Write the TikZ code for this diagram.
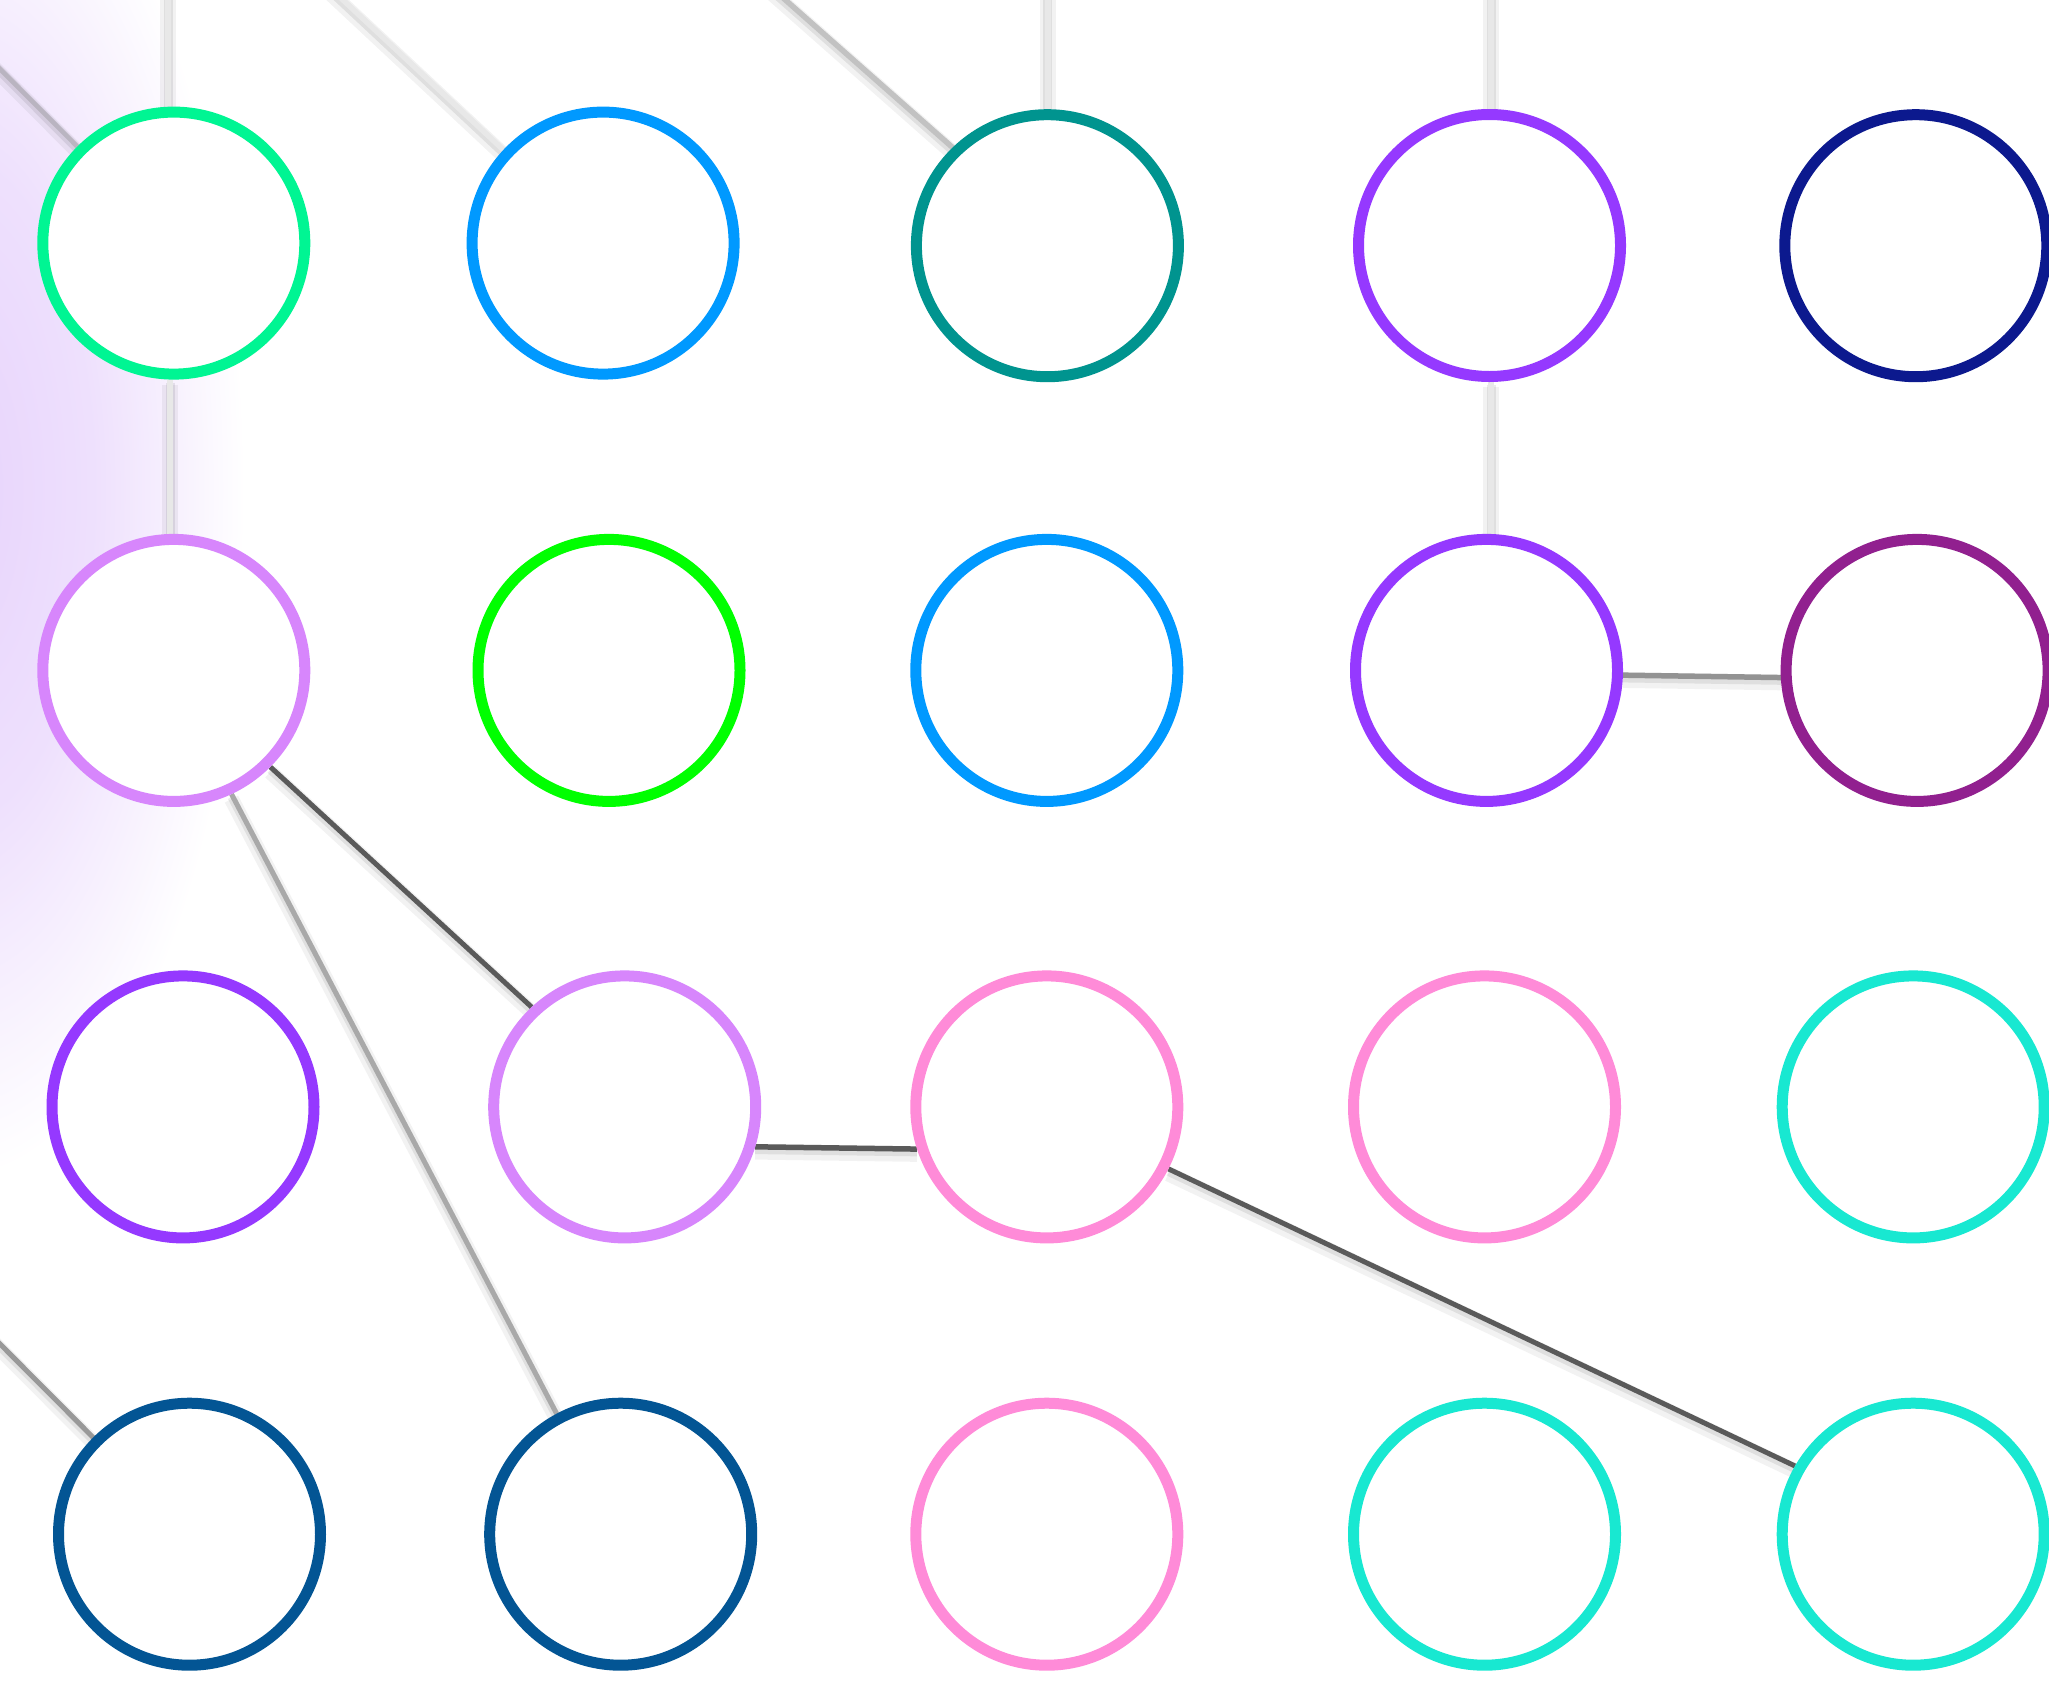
\documentclass[tikz,border=0pt]{standalone}
\usetikzlibrary{calc}
\definecolor{glowc}{HTML}{E7D3FC}
\pgfdeclareradialshading{glow}{\pgfpoint{0bp}{0bp}}{color(0bp)=(glowc); color(12bp)=(glowc!70!white); color(25bp)=(white); color(50bp)=(white)}
\pgfdeclarelayer{glowlayer}
\pgfdeclarelayer{edgelayer}
\pgfsetlayers{glowlayer,edgelayer,main}
\definecolor{cGreen}{HTML}{00F593}
\definecolor{cBlue}{HTML}{0099FF}
\definecolor{cTeal}{HTML}{00948F}
\definecolor{cViolet}{HTML}{9539FF}
\definecolor{cNavy}{HTML}{0C198E}
\definecolor{cLilac}{HTML}{D786FC}
\definecolor{cLime}{HTML}{00FF00}
\definecolor{cPlum}{HTML}{91208F}
\definecolor{cPink}{HTML}{FF8BD8}
\definecolor{cTurq}{HTML}{18E8D1}
\definecolor{cSteel}{HTML}{035594}
\definecolor{lDark}{HTML}{5A5A5A}
\definecolor{lMid}{HTML}{939393}
\definecolor{lSoft}{HTML}{A9A9A9}
\definecolor{lGrey}{HTML}{999999}
\definecolor{lLight}{HTML}{C2C2C2}
\definecolor{lPale}{HTML}{E8E8E8}
\tikzset{
  ring/.style={circle, draw=#1, line width=11pt, fill=white, minimum size=262pt, inner sep=0pt},
  lnk/.style 2 args={draw=#1, line width=#2,
    preaction={draw=black, draw opacity=0.05, line width=#2+10pt, transform canvas={yshift=-5pt}},
    preaction={draw=black, draw opacity=0.08, line width=#2+3pt, transform canvas={yshift=-3pt}}},
}
\begin{document}
\begin{tikzpicture}[x=1pt,y=-1pt]
\useasboundingbox (0,0) rectangle (2049,1686);
\begin{pgfonlayer}{glowlayer}
  \fill[white] (0,0) rectangle (2049,1686);
  \begin{scope}
    \clip (0,0) rectangle (2049,1686);
    \shade[shading=glow] (-45,490) ellipse [x radius=290, y radius=690];
  \end{scope}
\end{pgfonlayer}

% row 1
\node[ring=cGreen]  (n00) at (173.8,243.1) {};
\node[ring=cBlue]   (n01) at (603.1,243.1) {};
\node[ring=cTeal]   (n02) at (1047.4,245.7) {};
\node[ring=cViolet] (n03) at (1489.5,245.5) {};
\node[ring=cNavy]   (n04) at (1915.8,245.7) {};
% row 2
\node[ring=cLilac]  (n10) at (173.8,670.4) {};
\node[ring=cLime]   (n11) at (609.0,670.4) {};
\node[ring=cBlue]   (n12) at (1046.8,670.4) {};
\node[ring=cViolet] (n13) at (1486.5,670.4) {};
\node[ring=cPlum]   (n14) at (1917.1,670.4) {};
% row 3
\node[ring=cViolet] (n20) at (183.0,1106.9) {};
\node[ring=cLilac]  (n21) at (624.7,1106.9) {};
\node[ring=cPink]   (n22) at (1046.8,1106.9) {};
\node[ring=cPink]   (n23) at (1484.5,1106.9) {};
\node[ring=cTurq]   (n24) at (1913.2,1106.9) {};
% row 4
\node[ring=cSteel]  (n30) at (189.5,1534.2) {};
\node[ring=cSteel]  (n31) at (620.7,1534.2) {};
\node[ring=cPink]   (n32) at (1046.8,1534.2) {};
\node[ring=cTurq]   (n33) at (1484.5,1534.2) {};
\node[ring=cTurq]   (n34) at (1913.2,1534.2) {};

% free ends of connectors leaving the picture
\coordinate (offA) at (-218,-150);
\coordinate (offB) at (182.6,-150);
\coordinate (offC) at (615.5,-150);
\coordinate (offD) at (-150,1193.3);
\coordinate (offE) at (168,-30);
\coordinate (vx0)  at (170,0);
\coordinate (offF) at (1047.5,-30);
\coordinate (offG) at (1491,-30);

\begin{pgfonlayer}{edgelayer}
  \draw[lnk={gray}{5pt}, draw opacity=0.3] (offA) -- (n00);
  \draw[lnk={lPale}{6pt}] (offE) -- (offE |- n00.north);
  \draw[lnk={lPale}{6pt}] (n00.south -| vx0) -- (n10.north -| vx0);
  \draw[lnk={lPale}{5.5pt}] (offB) -- (n01);
  \draw[lnk={lLight}{5.5pt}] (offC) -- (n02.134.7);
  \draw[lnk={lPale}{6pt}] (offF) -- (offF |- n02.north);
  \draw[lnk={lPale}{6pt}] (offG) -- (offG |- n03.north);
  \draw[lnk={lPale}{6pt}] (n03.south -| offG) -- (n13.north -| offG);
  \draw[lnk={lMid}{5.5pt}] (n13.-2.3) -- (n14.-177.7);
  \draw[lnk={lDark}{5pt}] (n10.-45) -- (n21.133);
  \draw[lnk={lSoft}{5pt}] (n10.-65.6) -- (n31.118);
  \draw[lnk={lDark}{5.5pt}] (n21.-17.6) -- (n22.-162.4);
  \draw[lnk={lDark}{5pt}] (n22.-27) -- (n34.150.8);
  \draw[lnk={lGrey}{5pt}] (offD) -- (n30);
\end{pgfonlayer}
\end{tikzpicture}
\end{document}
